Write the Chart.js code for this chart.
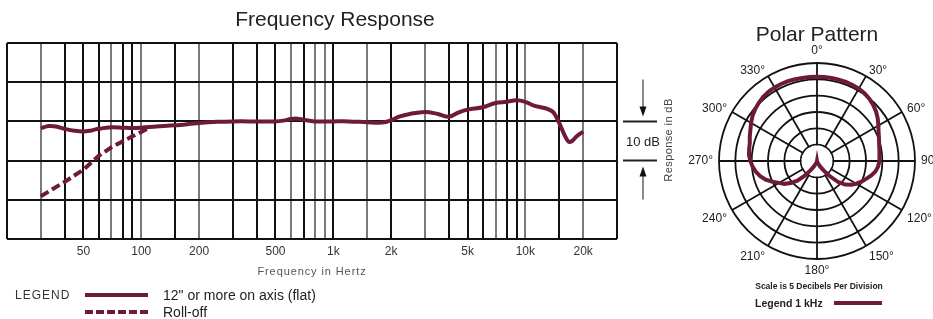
<!DOCTYPE html>
<html><head><meta charset="utf-8">
<script src="https://cdn.jsdelivr.net/npm/chart.js@4.4.0/dist/chart.umd.min.js"></script>
<style>
html,body{margin:0;padding:0;background:#fff;width:933px;height:319px;overflow:hidden;font-family:"Liberation Sans",Arial,sans-serif;color:#222}
.t{position:absolute;white-space:nowrap;line-height:1;transform:translate(-50%,-50%)}
.l{position:absolute;white-space:nowrap;line-height:1;transform:translateY(-50%)}
canvas{position:absolute}
.bar{position:absolute;height:4px}
</style></head>
<body>
<canvas id="freq" width="700" height="290" style="left:0;top:0"></canvas>
<canvas id="polar" width="257" height="250" style="left:676px;top:40px"></canvas>

<div class="t" style="left:335px;top:18px;font-size:21px">Frequency Response</div>
<div class="t" style="left:312px;top:271px;font-size:11px;letter-spacing:0.9px;color:#555">Frequency in Hertz</div>
<div class="t" style="left:643px;top:141px;font-size:13px">10 dB</div>
<div class="t" style="left:668px;top:140px;font-size:11px;letter-spacing:0.4px;color:#444;transform:translate(-50%,-50%) rotate(-90deg)">Response in dB</div>

<div class="l" style="left:15px;top:295px;font-size:12px;letter-spacing:1px;color:#333">LEGEND</div>
<div class="bar" id="solidSample" style="left:85px;top:293px;width:63px"></div>
<div class="l" style="left:163px;top:295px;font-size:14px">12" or more on axis (flat)</div>
<div class="bar" id="dashSample" style="left:85px;top:310px;width:63px"></div>
<div class="l" style="left:163px;top:312px;font-size:14px">Roll-off</div>

<div class="t" style="left:817px;top:33px;font-size:21px">Polar Pattern</div>
<div class="t" style="left:819px;top:286px;font-size:8.5px;font-weight:bold">Scale is 5 Decibels Per Division</div>
<div class="l" style="left:755px;top:303px;font-size:10.5px;font-weight:bold">Legend 1 kHz</div>
<div class="bar" id="polarSample" style="left:834px;top:301px;width:48px"></div>

<script>
// ---------- data ----------
const freqFlat = [30,33,36,40,45,50,55,60,70,80,90,100,120,150,200,250,300,400,500,550,600,650,700,800,1000,1200,1500,1800,2000,2200,2500,3000,3500,4000,4500,5000,6000,7000,8000,9000,10000,11000,12000,13000,14000,15000,16000,16800,17500,18500,20000];
const dbFlat   = [-1.7,-1.2,-1.3,-1.9,-2.4,-2.6,-2.3,-1.9,-1.5,-1.6,-1.7,-1.6,-1.3,-1.0,-0.4,-0.1,0,0,0,0.2,0.6,0.7,0.4,0,0,0,-0.2,-0.3,0.3,1.2,1.9,2.4,1.9,1.2,2.3,3.0,3.6,4.7,5.0,5.4,5.0,4.1,3.6,3.2,2.3,-0.4,-3.5,-5.2,-5.0,-3.8,-2.6];
const freqRolloff = [30,40,50,60,70,80,90,100,110];
const dbRolloff   = [-19.1,-15.4,-12.3,-8.8,-6.6,-5.1,-3.8,-2.7,-1.6];

const gridFreqs = [20,30,40,50,60,70,80,90,100,150,200,300,400,500,600,700,800,900,1000,1500,2000,3000,4000,5000,6000,7000,8000,9000,10000,15000,20000,30000];
const grayFreqs = [30,70,100,200,600,800,900,1500,3000,7000,10000,20000];
const tickValues = [50,100,200,500,1000,2000,5000,10000,20000];
const tickLabels = ['50','100','200','500','1k','2k','5k','10k','20k'];
const scaleBarDb = [0,-10];

const polarAngles = [0,5,10,15,20,25,30,35,40,45,50,55,60,65,70,75,80,85,90,95,100,105,110,115,120,125,130,135,140,145,150,155,160,165,170,175,180,185,190,195,200,205,210,215,220,225,230,235,240,245,250,255,260,265,270,275,280,285,290,295,300,305,310,315,320,325,330,335,340,345,350,355];
const polarDb = [-4.2,-4.2,-4.2,-4.2,-4.2,-4.3,-4.4,-4.7,-5.1,-5.7,-6.4,-7.3,-8.3,-9.2,-9.8,-10.3,-10.6,-10.8,-10.9,-11.2,-11.8,-12.8,-14.0,-15.0,-16.1,-17.3,-18.8,-21.0,-24.0,-26.5,-28.0,-29.0,-29.4,-29.7,-29.9,-30,-30,-30,-29.9,-29.7,-29.4,-29.0,-28.0,-26.5,-24.0,-21.5,-19.5,-17.8,-16.6,-15.0,-13.3,-12.0,-11.0,-10.2,-9.6,-9.1,-8.9,-8.7,-8.1,-7.5,-6.7,-5.9,-5.3,-4.8,-4.4,-4.1,-4.0,-4.0,-4.0,-4.1,-4.2,-4.2];
const polarLabelAngles = [0,30,60,90,120,150,180,210,240,270,300,330];
const polarLabels = ['0°','30°','60°','90°','120°','150°','180°','210°','240°','270°','300°','330°'];

// ---------- style ----------
const MAROON = '#6f1a3d';
const FONT = '"Liberation Sans", Arial, sans-serif';
document.getElementById('solidSample').style.background = MAROON;
document.getElementById('polarSample').style.background = MAROON;
document.getElementById('dashSample').style.background = 'repeating-linear-gradient(to right,' + MAROON + ' 0 8px, transparent 8px 11px)';

const annotPlugin = {
  id: 'annot',
  afterDraw(chart) {
    const ctx = chart.ctx, ys = chart.scales.y;
    const yA = ys.getPixelForValue(scaleBarDb[0]);
    const yB = ys.getPixelForValue(scaleBarDb[1]);
    const x1 = 623, x2 = 657, xm = 643;
    ctx.save();
    ctx.strokeStyle = '#222'; ctx.lineWidth = 2;
    ctx.beginPath(); ctx.moveTo(x1, yA); ctx.lineTo(x2, yA); ctx.moveTo(x1, yB); ctx.lineTo(x2, yB); ctx.stroke();
    ctx.strokeStyle = '#888'; ctx.lineWidth = 2;
    ctx.beginPath(); ctx.moveTo(xm, yA - 42); ctx.lineTo(xm, yA - 13);
    ctx.moveTo(xm, yB + 14); ctx.lineTo(xm, yB + 39); ctx.stroke();
    ctx.fillStyle = '#111';
    ctx.beginPath(); ctx.moveTo(xm - 3.5, yA - 15); ctx.lineTo(xm + 3.5, yA - 15); ctx.lineTo(xm, yA - 5); ctx.closePath(); ctx.fill();
    ctx.beginPath(); ctx.moveTo(xm - 3.5, yB + 16); ctx.lineTo(xm + 3.5, yB + 16); ctx.lineTo(xm, yB + 6); ctx.closePath(); ctx.fill();
    ctx.restore();
  }
};

new Chart(document.getElementById('freq'), {
  type: 'line',
  data: { datasets: [
    { data: freqFlat.map((f, i) => ({x: f, y: dbFlat[i]})), borderColor: MAROON, borderWidth: 4, pointRadius: 0, tension: 0.35, fill: false },
    { data: freqRolloff.map((f, i) => ({x: f, y: dbRolloff[i]})), borderColor: MAROON, borderWidth: 4, borderDash: [9, 4], pointRadius: 0, tension: 0, fill: false }
  ]},
  options: {
    responsive: false, animation: false, events: [],
    layout: { padding: { left: 7, top: 43, right: 83, bottom: 31 } },
    plugins: { legend: { display: false }, tooltip: { enabled: false } },
    scales: {
      x: {
        type: 'logarithmic', min: 20, max: 30000,
        border: { display: false },
        afterBuildTicks: s => { s.ticks = gridFreqs.map(v => ({ value: v })); },
        afterFit: s => { s.height = 20; },
        grid: { color: c => (c.tick && grayFreqs.includes(c.tick.value)) ? '#7a7a7a' : '#111', lineWidth: 2, drawTicks: false },
        ticks: { autoSkip: false, maxRotation: 0, padding: 5, color: '#333', font: { family: FONT, size: 12 },
          callback: v => { const k = tickValues.indexOf(v); return k >= 0 ? tickLabels[k] : ''; } }
      },
      y: {
        min: -30, max: 20,
        border: { display: false },
        afterFit: s => { s.width = 0; },
        ticks: { display: false, stepSize: 10 },
        grid: { color: '#111', lineWidth: 2, drawTicks: false }
      }
    }
  },
  plugins: [annotPlugin]
});

const polarPlugin = {
  id: 'polarDeco',
  beforeDatasetsDraw(chart) {
    const s = chart.scales.r, ctx = chart.ctx;
    const r1 = s.getDistanceFromCenterForValue(-25);
    ctx.save(); ctx.fillStyle = '#fff';
    ctx.beginPath(); ctx.arc(s.xCenter, s.yCenter, r1 - 0.9, 0, Math.PI * 2); ctx.fill();
    ctx.restore();
  },
  afterDraw(chart) {
    const s = chart.scales.r, ctx = chart.ctx;
    ctx.save();
    ctx.fillStyle = '#222';
    ctx.font = '12px ' + FONT;
    polarLabels.forEach((lab, i) => {
      const ang = polarLabelAngles[i];
      const idx = polarAngles.indexOf(ang);
      const p = s.getPointPosition(idx, s.drawingArea + 6);
      let align = 'center', base = 'middle';
      if (ang === 0) base = 'bottom';
      else if (ang === 180) base = 'top';
      else { align = ang < 180 ? 'left' : 'right'; base = (ang > 90 && ang < 270) ? 'top' : 'middle'; }
      ctx.textAlign = align; ctx.textBaseline = base;
      ctx.fillText(lab, p.x, p.y);
    });
    ctx.restore();
  }
};

new Chart(document.getElementById('polar'), {
  type: 'radar',
  data: { labels: polarAngles.map(String), datasets: [
    { data: polarDb, borderColor: MAROON, borderWidth: 4, pointRadius: 0, fill: false, tension: 0 }
  ]},
  options: {
    responsive: false, animation: false, events: [],
    layout: { padding: { left: 43, top: 23, right: 18, bottom: 31 } },
    plugins: { legend: { display: false }, tooltip: { enabled: false } },
    scales: { r: {
      min: -30, max: 0,
      ticks: { display: false, stepSize: 5 },
      pointLabels: { display: false },
      grid: { circular: true, color: '#111', lineWidth: 1.8 },
      angleLines: { display: true, color: '#111', lineWidth: c => (polarAngles[c.index] % 30 === 0) ? 1.8 : 0 }
    } }
  },
  plugins: [polarPlugin]
});
</script>
</body></html>
